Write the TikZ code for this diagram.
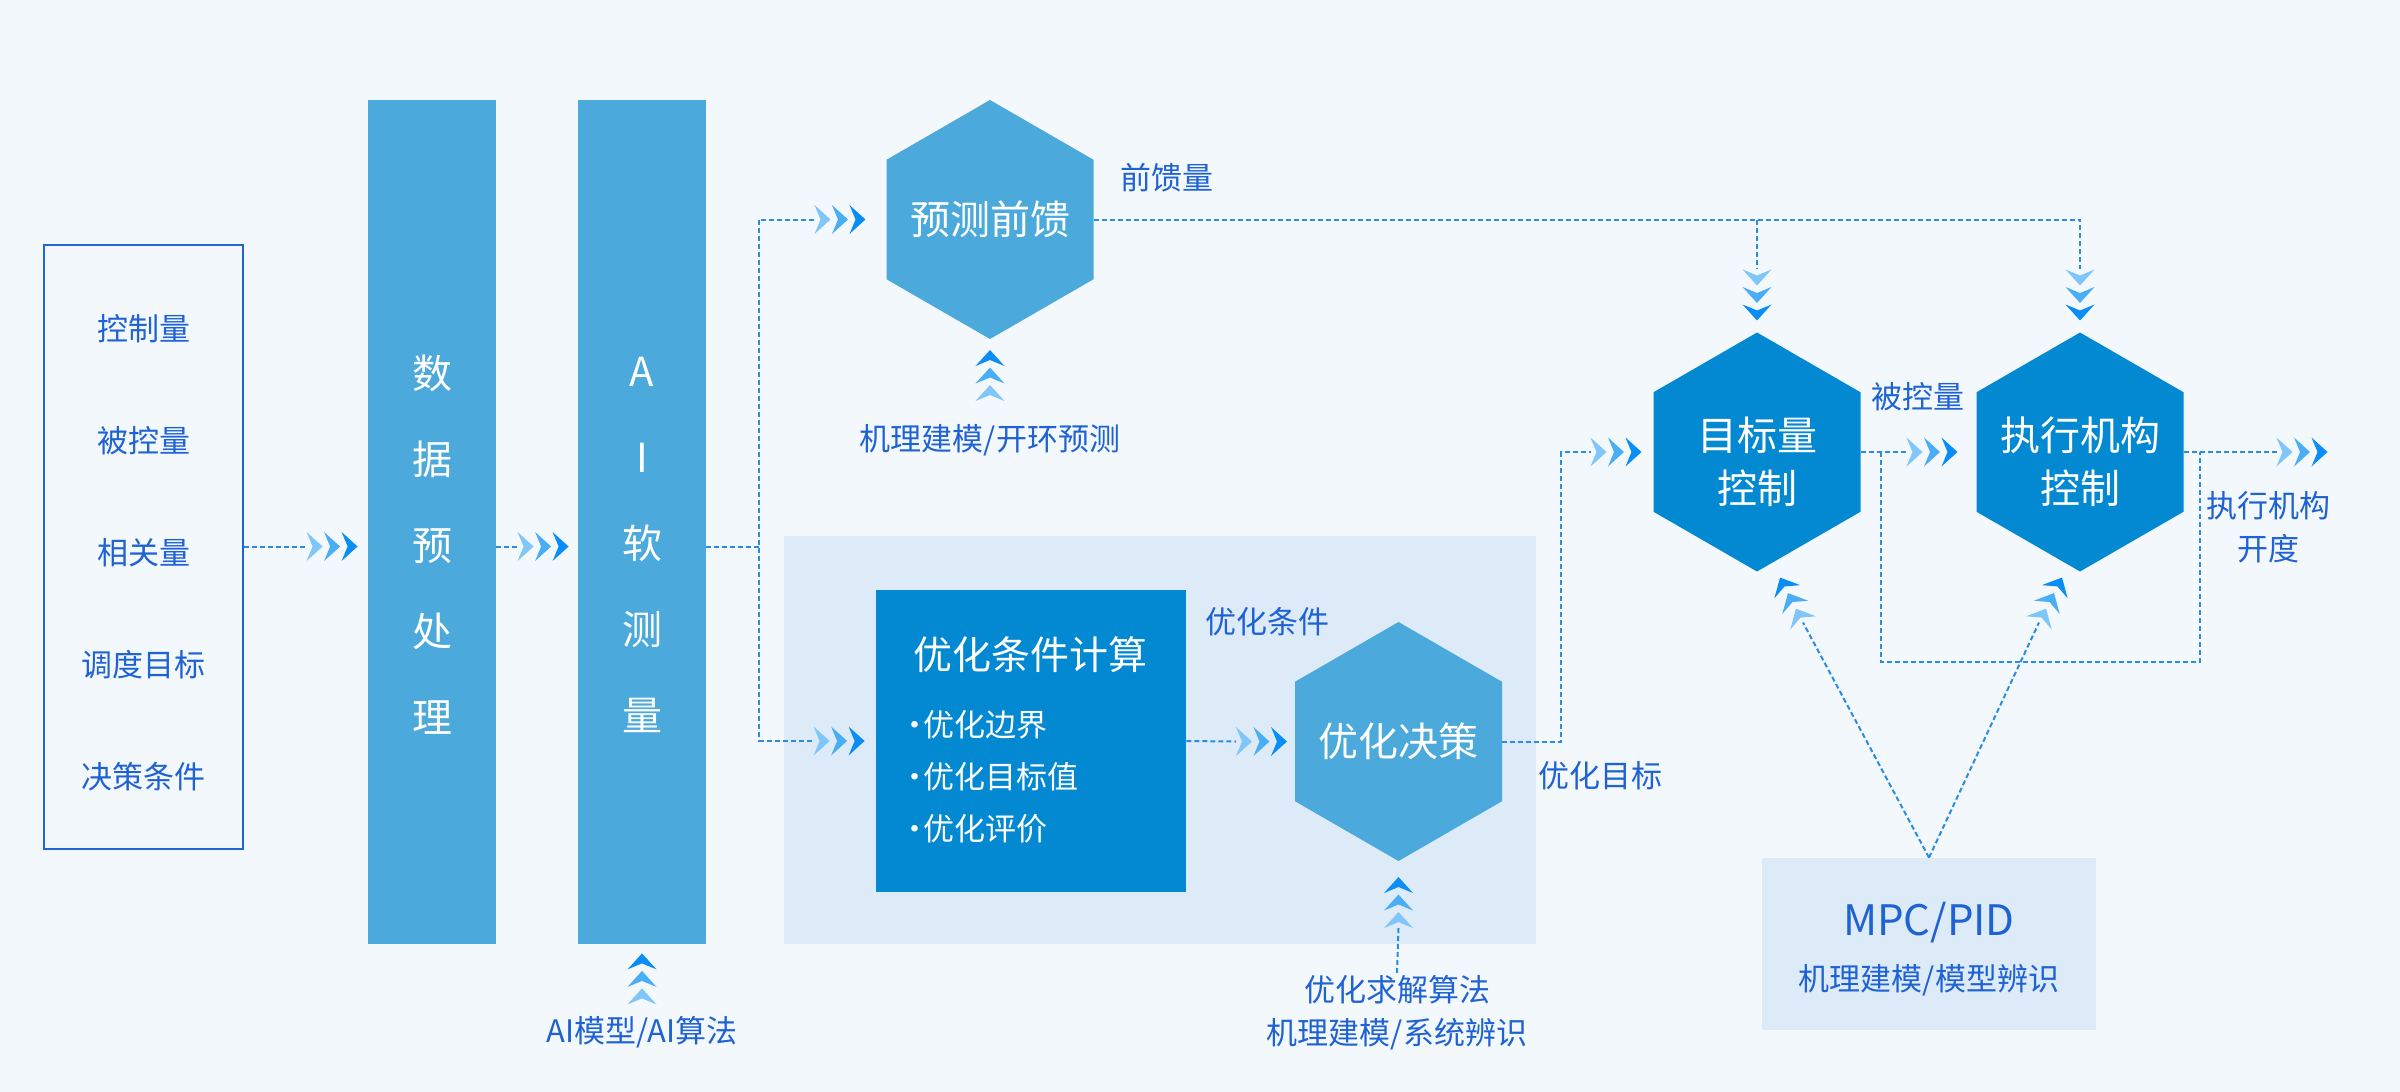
\documentclass[tikz,border=0pt]{standalone}
\usepackage{fontspec}
\setmainfont{Noto Sans CJK SC}
\usetikzlibrary{shapes.geometric,calc}
\definecolor{bgc}{HTML}{F3F8FD}
\definecolor{barc}{HTML}{4BA9DC}
\definecolor{darkc}{HTML}{0388D2}
\definecolor{panelc}{HTML}{DDEBF8}
\definecolor{txtc}{HTML}{1F62D3}
\definecolor{borderc}{HTML}{2266D6}
\definecolor{linec}{HTML}{2B8CE3}
\definecolor{chA}{HTML}{80C6FB}
\definecolor{chB}{HTML}{4AAEF7}
\definecolor{chC}{HTML}{0A8DF6}
\newcommand\chv[2]{%
  \begin{scope}[shift={(#1)},rotate=#2]
    \fill[chA] (-35,0) -- (-51,14.5) -- (-45,0) -- (-51,-14.5) -- cycle;
    \fill[chB] (-17.5,0) -- (-33.5,14.5) -- (-27.5,0) -- (-33.5,-14.5) -- cycle;
    \fill[chC] (0,0) -- (-16,14.5) -- (-10,0) -- (-16,-14.5) -- cycle;
  \end{scope}}
\newcommand\bdot{\makebox[0.55em][c]{·}}
\begin{document}
\begin{tikzpicture}[x=0.5pt,y=-0.5pt,
  lbl/.style={text=txtc,inner sep=0pt,font=\fontsize{15.5pt}{21.5pt}\selectfont},
  bar/.style={fill=barc,minimum width=64pt,minimum height=422pt,inner sep=0pt},
  bartxt/.style={text=white,align=center,inner sep=0pt,font=\fontsize{20pt}{43pt}\selectfont},
  hexA/.style={regular polygon,regular polygon sides=6,shape border rotate=30,minimum size=119.5pt,inner sep=0pt,outer sep=0pt,fill=barc},
  hexB/.style={hexA,fill=darkc},
  hextxt/.style={text=white,align=center,inner sep=0pt,font=\fontsize{20pt}{26.5pt}\selectfont},
  dl/.style={draw=linec,line width=1pt,dash pattern=on 2.5pt off 1.5pt}]
\fill[bgc] (0,0) rectangle (2400,1092);
\useasboundingbox (0,0) rectangle (2400,1092);

% panels and boxes
\node[fill=panelc,minimum width=376pt,minimum height=204pt,inner sep=0pt] (panel) at (1160,740) {};
\node[fill=panelc,minimum width=167pt,minimum height=86pt,inner sep=0pt] (mpc) at (1929,944) {};
\node[text=txtc,inner sep=0pt,font=\fontsize{21pt}{24pt}\selectfont] (mpct) at (1929,923) {MPC/PID};
\node[lbl] (mpcs) at (1929,980) {机理建模/模型辨识};

\node[draw=borderc,line width=1pt,minimum width=99.5pt,minimum height=302pt,inner sep=0pt] (inbox) at (143.5,546.5) {};
\node[lbl] (i1) at (143.5,329) {控制量};
\node[lbl] (i2) at (143.5,441) {被控量};
\node[lbl] (i3) at (143.5,553) {相关量};
\node[lbl] (i4) at (143.5,665) {调度目标};
\node[lbl] (i5) at (143.5,777) {决策条件};

\node[bar] (bar1) at (432,522) {};
\node[bartxt] (bt1) at (432,545) {数\\据\\预\\处\\理};
\node[bar] (bar2) at (642,522) {};
\node[bartxt] (bt2) at (642,545) {A\\I\\软\\测\\量};

\node[fill=darkc,minimum width=155pt,minimum height=151pt,inner sep=0pt] (opt) at (1031,741) {};
\node[text=white,inner sep=0pt,font=\fontsize{19.5pt}{24pt}\selectfont] (optt) at (1030,655) {优化条件计算};
\node[text=white,inner sep=0pt,anchor=west,align=left,font=\fontsize{15.5pt}{26pt}\selectfont] (optb) at (906,777) {\bdot 优化边界\\\bdot 优化目标值\\\bdot 优化评价};

% hexagons
\node[hexA] (h1) at (990,219.5) {};
\node[hextxt] (h1t) at (h1) {预测前馈};
\node[hexA] (h2) at (1398.5,741.5) {};
\node[hextxt] (h2t) at (h2) {优化决策};
\node[hexB] (h3) at (1757,452) {};
\node[hextxt] (h3t) at ($(h3)+(0,10)$) {目标量\\控制};
\node[hexB] (h4) at (2080,452) {};
\node[hextxt] (h4t) at ($(h4)+(0,10)$) {执行机构\\控制};

% labels
\node[lbl,anchor=west] (lff) at (1120,178) {前馈量};
\node[lbl] (lh1) at (990,440) {机理建模/开环预测};
\node[lbl] (lcond) at (1267,622) {优化条件};
\node[lbl] (lgoal) at (1600,776) {优化目标};
\node[lbl] (ol1) at (1397,990) {优化求解算法};
\node[lbl] (ol2) at (1397,1034) {机理建模/系统辨识};
\node[lbl] (lai) at (642,1032) {AI模型/AI算法};
\node[lbl] (lbk) at (1918,397) {被控量};
\node[lbl,align=center] (lout) at (2268,527.5) {执行机构\\开度};

% connectors
\coordinate (ta) at ($(bar1.west|-inbox.east)+(-10,0)$);
\draw[dl] (inbox.east) -- ($(ta)+(-51,0)$);
\chv{ta}{0}

\coordinate (tb) at ($(bar2.west|-inbox.east)+(-9,0)$);
\draw[dl] (bar1.east|-inbox.east) -- ($(tb)+(-51,0)$);
\chv{tb}{0}

\coordinate (sp) at ($(bar2.east|-inbox.east)+(53,0)$);
\coordinate (tc1) at ($(h1.west)+(-21,0)$);
\coordinate (tc2) at ($(opt.west)+(-11,0)$);
\draw[dl] (bar2.east|-inbox.east) -- (sp);
\draw[dl] ($(tc1)+(-51,0)$) -| (sp) |- ($(tc2)+(-51,0)$);
\chv{tc1}{0}
\chv{tc2}{0}

\coordinate (td) at ($(h1.south)+(0,11)$);
\chv{td}{90}

\coordinate (te1) at ($(h3.north)+(0,-12)$);
\coordinate (te2) at ($(h4.north)+(0,-12)$);
\draw[dl] (h1.east) -- (h1.east -| h4.north) -- ($(te2)+(0,-51)$);
\draw[dl] (h1.east -| h3.north) -- ($(te1)+(0,-51)$);
\chv{te1}{-90}
\chv{te2}{-90}

\coordinate (tf) at ($(h3.west)+(-12,0)$);
\draw[dl] (h2.east) -- ($(h2.east)+(59,0)$) |- ($(tf)+(-51,0)$);
\chv{tf}{0}

\coordinate (tg) at ($(h2.west)+(-8,0)$);
\draw[dl] (opt.east) -- ($(tg)+(-51,0)$);
\chv{tg}{0}

\coordinate (th) at ($(h2.south)+(0,16)$);
\draw[dl] ($(th)+(0,51)$) -- (ol1.north);
\chv{th}{90}

\coordinate (ti) at ($(bar2.south)+(0,9)$);
\chv{ti}{90}

\coordinate (tj) at ($(h4.west)+(-19,0)$);
\draw[dl] (h3.east) -- ($(tj)+(-51,0)$);
\chv{tj}{0}

\coordinate (tk) at ($(h4.east)+(144,0)$);
\draw[dl] (h4.east) -- ($(tk)+(-51,0)$);
\chv{tk}{0}

\draw[dl] ($(h3.east)+(20,0)$) -- ++(0,210) -| ($(h4.east)+(16,0)$);

\coordinate (tmL) at ($(h3.south)+(23,6)$);
\coordinate (tmR) at ($(h4.south)+(-18,6)$);
\draw[dl] (mpc.north) -- ($(h3.south)+(46,51)$);
\draw[dl] (mpc.north) -- ($(h4.south)+(-41,51)$);
\chv{tmL}{117.07}
\chv{tmR}{62.93}
\end{tikzpicture}
\end{document}
